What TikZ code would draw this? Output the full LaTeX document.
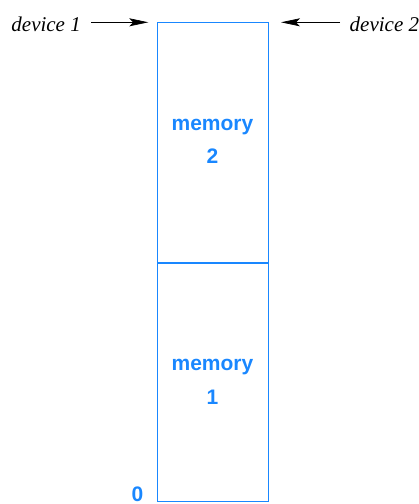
\documentclass[tikz,border=0pt]{standalone}
\usepackage{fontspec}
\setmainfont{Liberation Serif}
\newfontfamily\hvfont{Liberation Sans}
\usetikzlibrary{arrows.meta}
\definecolor{memblue}{RGB}{25,135,255}
\tikzset{
  membox/.style={draw=memblue, line width=1.3pt, minimum width=111.4pt, inner sep=0pt, outer sep=0pt, anchor=north west},
  memlabel/.style={text=memblue, font=\hvfont\bfseries\fontsize{21}{33.5}\selectfont, align=center, inner sep=0pt},
  devlabel/.style={font=\itshape\fontsize{21}{24}\selectfont, inner sep=0pt},
  devarrow/.style={line width=0.7pt, -{Stealth[length=19pt, width=8pt, inset=4pt]}}
}
\begin{document}
\begin{tikzpicture}[x=1pt, y=-1pt]
\useasboundingbox (0,0) rectangle (419,504);
\node[membox, minimum height=240.7pt] (m2) at (157.3,22.3) {};
\node[membox, minimum height=238.4pt] (m1) at (157.3,263) {};
\node[memlabel, anchor=base] (t2) at (212.5,163.5) {memory\\2};
\node[memlabel, anchor=base] (t1) at (212.5,404) {memory\\1};
\node[memlabel, anchor=base east] (z) at (143.5,501) {0};
\node[devlabel, anchor=base east] (d1) at (81,31.7) {device 1};
\node[devlabel, anchor=base west] (d2) at (349.5,31.7) {device 2};
\coordinate (a1) at (91,22.3);
\coordinate (a2) at (340,22.3);
\draw[devarrow, shorten >=9pt] (a1) -- (m2.north west);
\draw[devarrow, shorten >=12.3pt] (a2) -- (m2.north east);
\end{tikzpicture}
\end{document}
